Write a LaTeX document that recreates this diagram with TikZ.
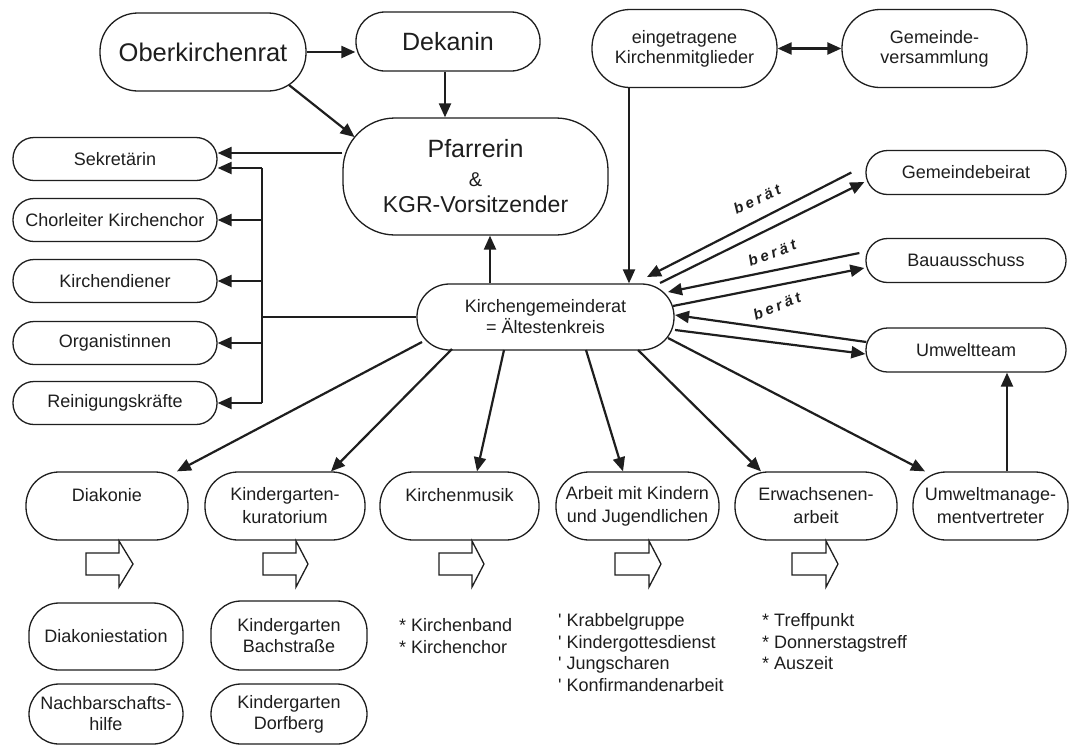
\documentclass[tikz,border=0pt]{standalone}
\usepackage{fontspec}
\setmainfont{Liberation Sans}
\newfontfamily\beratfont[LetterSpace=22]{Liberation Sans}
\usetikzlibrary{arrows.meta}
\definecolor{ink}{RGB}{30,30,30}
\begin{document}
\begin{tikzpicture}[x=1pt,y=-1pt,
  box/.style={draw=ink, line width=1.3pt, rounded corners=#1, inner sep=0pt, align=center, text=ink, font=\fontsize{18}{20}\selectfont},
  box/.default=20pt,
  arr/.style={draw=ink, line width=2.2pt, -{Triangle[length=14pt,width=12pt]}},
  dbl/.style={draw=ink, line width=2.2pt, {Triangle[length=14pt,width=12pt]}-{Triangle[length=14pt,width=12pt]}},
  thin/.style={draw=ink, line width=1.3pt},
  blk/.style={draw=ink, line width=1.3pt, fill=white, line join=miter},
  lbl/.style={text=ink, font=\beratfont\bfseries\itshape\fontsize{15}{17}\selectfont, inner sep=0pt},
  lst/.style={text=ink, align=left, anchor=north west, inner sep=0pt, font=\fontsize{18}{21.5}\selectfont},
  side/.style={box=21pt, minimum width=204pt, minimum height=43pt},
  right/.style={box=21.5pt, minimum width=200pt, minimum height=44pt},
  low/.style={box=33pt, minimum height=68pt, font=\fontsize{18}{23}\selectfont},
  sub/.style={box=30pt, font=\fontsize{18}{21}\selectfont}
]
\fill[white] (0,0) rectangle (1070,745);
\useasboundingbox (0,0) rectangle (1070,745);

% top
\node[box=38pt, minimum width=206pt, minimum height=78pt, font=\fontsize{25.5}{28}\selectfont] (ober) at (203,52) {Oberkirchenrat};
\node[box=29pt, minimum width=184pt, minimum height=59pt, font=\fontsize{25}{28}\selectfont] (dekan) at (448,41.5) {Dekanin};
\node[box=52pt, minimum width=265pt, minimum height=117pt, font=\fontsize{25}{29}\selectfont] (pfarr) at (475.5,176.5) {Pfarrerin\\[-0.5pt]\fontsize{20}{22}\selectfont\&\\[-2.5pt]\fontsize{23}{27}\selectfont KGR-Vorsitzender};
\node[box=38pt, minimum width=185pt, minimum height=78pt] (eing) at (684.5,48.5) {eingetragene\\Kirchenmitglieder};
\node[box=38pt, minimum width=185pt, minimum height=78pt] (gemv) at (934.5,48.5) {Gemeinde-\\versammlung};

% left column
\node[side] (sek) at (115,159) {Sekretärin};
\node[side] (chor) at (115,220) {Chorleiter Kirchenchor};
\node[side] (kd) at (115,281) {Kirchendiener};
\node[side] (org) at (115,343) {Organistinnen};
\node[side] (rein) at (115,403) {Reinigungskräfte};

% centre
\node[box=32.5pt, minimum width=257pt, minimum height=66pt, font=\fontsize{18}{21}\selectfont] (kgr) at (545.5,317) {Kirchengemeinderat\\= Ältestenkreis};

% right column
\node[right] (gbr) at (966,172.5) {Gemeindebeirat};
\node[right] (bau) at (966,260.5) {Bauausschuss};
\node[right] (umt) at (966,350) {Umweltteam};

% bottom row
\node[low, minimum width=162pt] (diak) at (107,506) {Diakonie\\\mbox{}};
\node[low, minimum width=160pt] (kgk) at (285,506) {Kindergarten-\\kuratorium};
\node[low, minimum width=159pt] (kmus) at (459.5,506) {Kirchenmusik\\\mbox{}};
\node[low, minimum width=163pt] (arb) at (637.5,506) {Arbeit mit Kindern\\und Jugendlichen};
\node[low, minimum width=162pt] (erw) at (816,506) {Erwachsenen-\\arbeit};
\node[low, minimum width=155pt] (umv) at (990.5,506) {Umweltmanage-\\mentvertreter};

% third row
\node[sub, minimum width=154pt, minimum height=67pt] (dst) at (106,636.5) {Diakoniestation};
\node[sub, minimum width=154pt, minimum height=60pt] (nbh) at (106,714) {Nachbarschafts-\\hilfe};
\node[sub, minimum width=156pt, minimum height=69pt] (kgb) at (289,635.5) {Kindergarten\\Bachstraße};
\node[sub, minimum width=156pt, minimum height=60pt] (kgd) at (289,714) {Kindergarten\\Dorfberg};

% lists
\node[lst] (lmus) at (399,618.5) {* Kirchenband\\* Kirchenchor};
\node[lst] (larb) at (558,613.5) {\textquotesingle\ Krabbelgruppe\\\textquotesingle\ Kindergottesdienst\\\textquotesingle\ Jungscharen\\\textquotesingle\ Konfirmandenarbeit};
\node[lst] (lerw) at (762,613.5) {* Treffpunkt\\* Donnerstagstreff\\* Auszeit};

% block arrows
\foreach \a/\b/\c in {86/119/133, 263/296/308, 439/472/484, 615/649/661, 792/826/838}
  \draw[blk] (\a,553) -- (\b,553) -- (\b,541) -- (\c,564) -- (\b,587) -- (\b,575) -- (\a,575) -- cycle;

% top connectors
\draw[arr] (ober.east) -- (ober.east -| dekan.west);
\draw[arr] ([xshift=-3pt]dekan.south) -- ([xshift=-3pt]dekan.south |- pfarr.north);
\draw[arr] ([shift={(86,33)}]ober.center) -- ([shift={(-121,-39.5)}]pfarr.center);
\draw[arr] ([xshift=-55.5pt]kgr.north) -- ([xshift=-55.5pt]kgr.north |- pfarr.south);
\draw[arr] ([xshift=-55.5pt]eing.south) -- ([xshift=-55.5pt]eing.south |- kgr.north);
\draw[dbl] (eing.east) -- (gemv.west);

% left connectors
\coordinate (bt) at (262,168);
\coordinate (bb) at (262,403);
\draw[thin, line width=1.8pt] (bt) -- (bb);
\draw[thin] (kgr.west) -- (kgr.west -| bt);
\draw[arr] ([shift={(0,-23.5)}]pfarr.west) -- ([shift={(0,-6)}]sek.east);
\draw[arr] (bt) -- ([shift={(0,9)}]sek.east);
\draw[arr] (chor.east -| bt) -- (chor.east);
\draw[arr] (kd.east -| bt) -- (kd.east);
\draw[arr] (org.east -| bt) -- (org.east);
\draw[arr] (rein.east -| bt) -- (rein.east);

% right connectors
\draw[arr] ([shift={(-14,0)}]gbr.west) -- ([shift={(101.5,-40)}]kgr.center);
\draw[arr] ([shift={(114.5,-34)}]kgr.center) -- ([shift={(-1,9.5)}]gbr.west);
\draw[arr] ([shift={(-6,-7.5)}]bau.west) -- ([shift={(122.5,-25)}]kgr.center);
\draw[arr] ([shift={(127.5,-11)}]kgr.center) -- ([shift={(-1,7.5)}]bau.west);
\draw[arr] ([shift={(1,-8)}]umt.west) -- ([shift={(129.5,-2)}]kgr.center);
\draw[arr] ([shift={(129.5,13)}]kgr.center) -- ([shift={(0,4)}]umt.west);

\node[lbl, rotate=25] (b1) at (757,199) {berät};
\node[lbl, rotate=21] (b2) at (772,253) {berät};
\node[lbl, rotate=22] (b3) at (777,306) {berät};

% bottom connectors
\draw[arr] ([shift={(-123.5,25)}]kgr.center) -- ([xshift=70pt]diak.north);
\draw[arr] ([shift={(-93.5,32)}]kgr.center) -- ([xshift=46pt]kgk.north);
\draw[arr] ([shift={(-41.5,33)}]kgr.center) -- ([xshift=17.5pt]kmus.north);
\draw[arr] ([shift={(40.5,33)}]kgr.center) -- ([xshift=-14.5pt]arb.north);
\draw[arr] ([shift={(92.5,33)}]kgr.center) -- ([xshift=-55pt]erw.north);
\draw[arr] ([shift={(122.5,21)}]kgr.center) -- ([xshift=-65.5pt]umv.north);
\draw[arr] ([xshift=16.5pt]umv.north) -- ([xshift=16.5pt]umv.north |- umt.south);
\end{tikzpicture}
\end{document}
